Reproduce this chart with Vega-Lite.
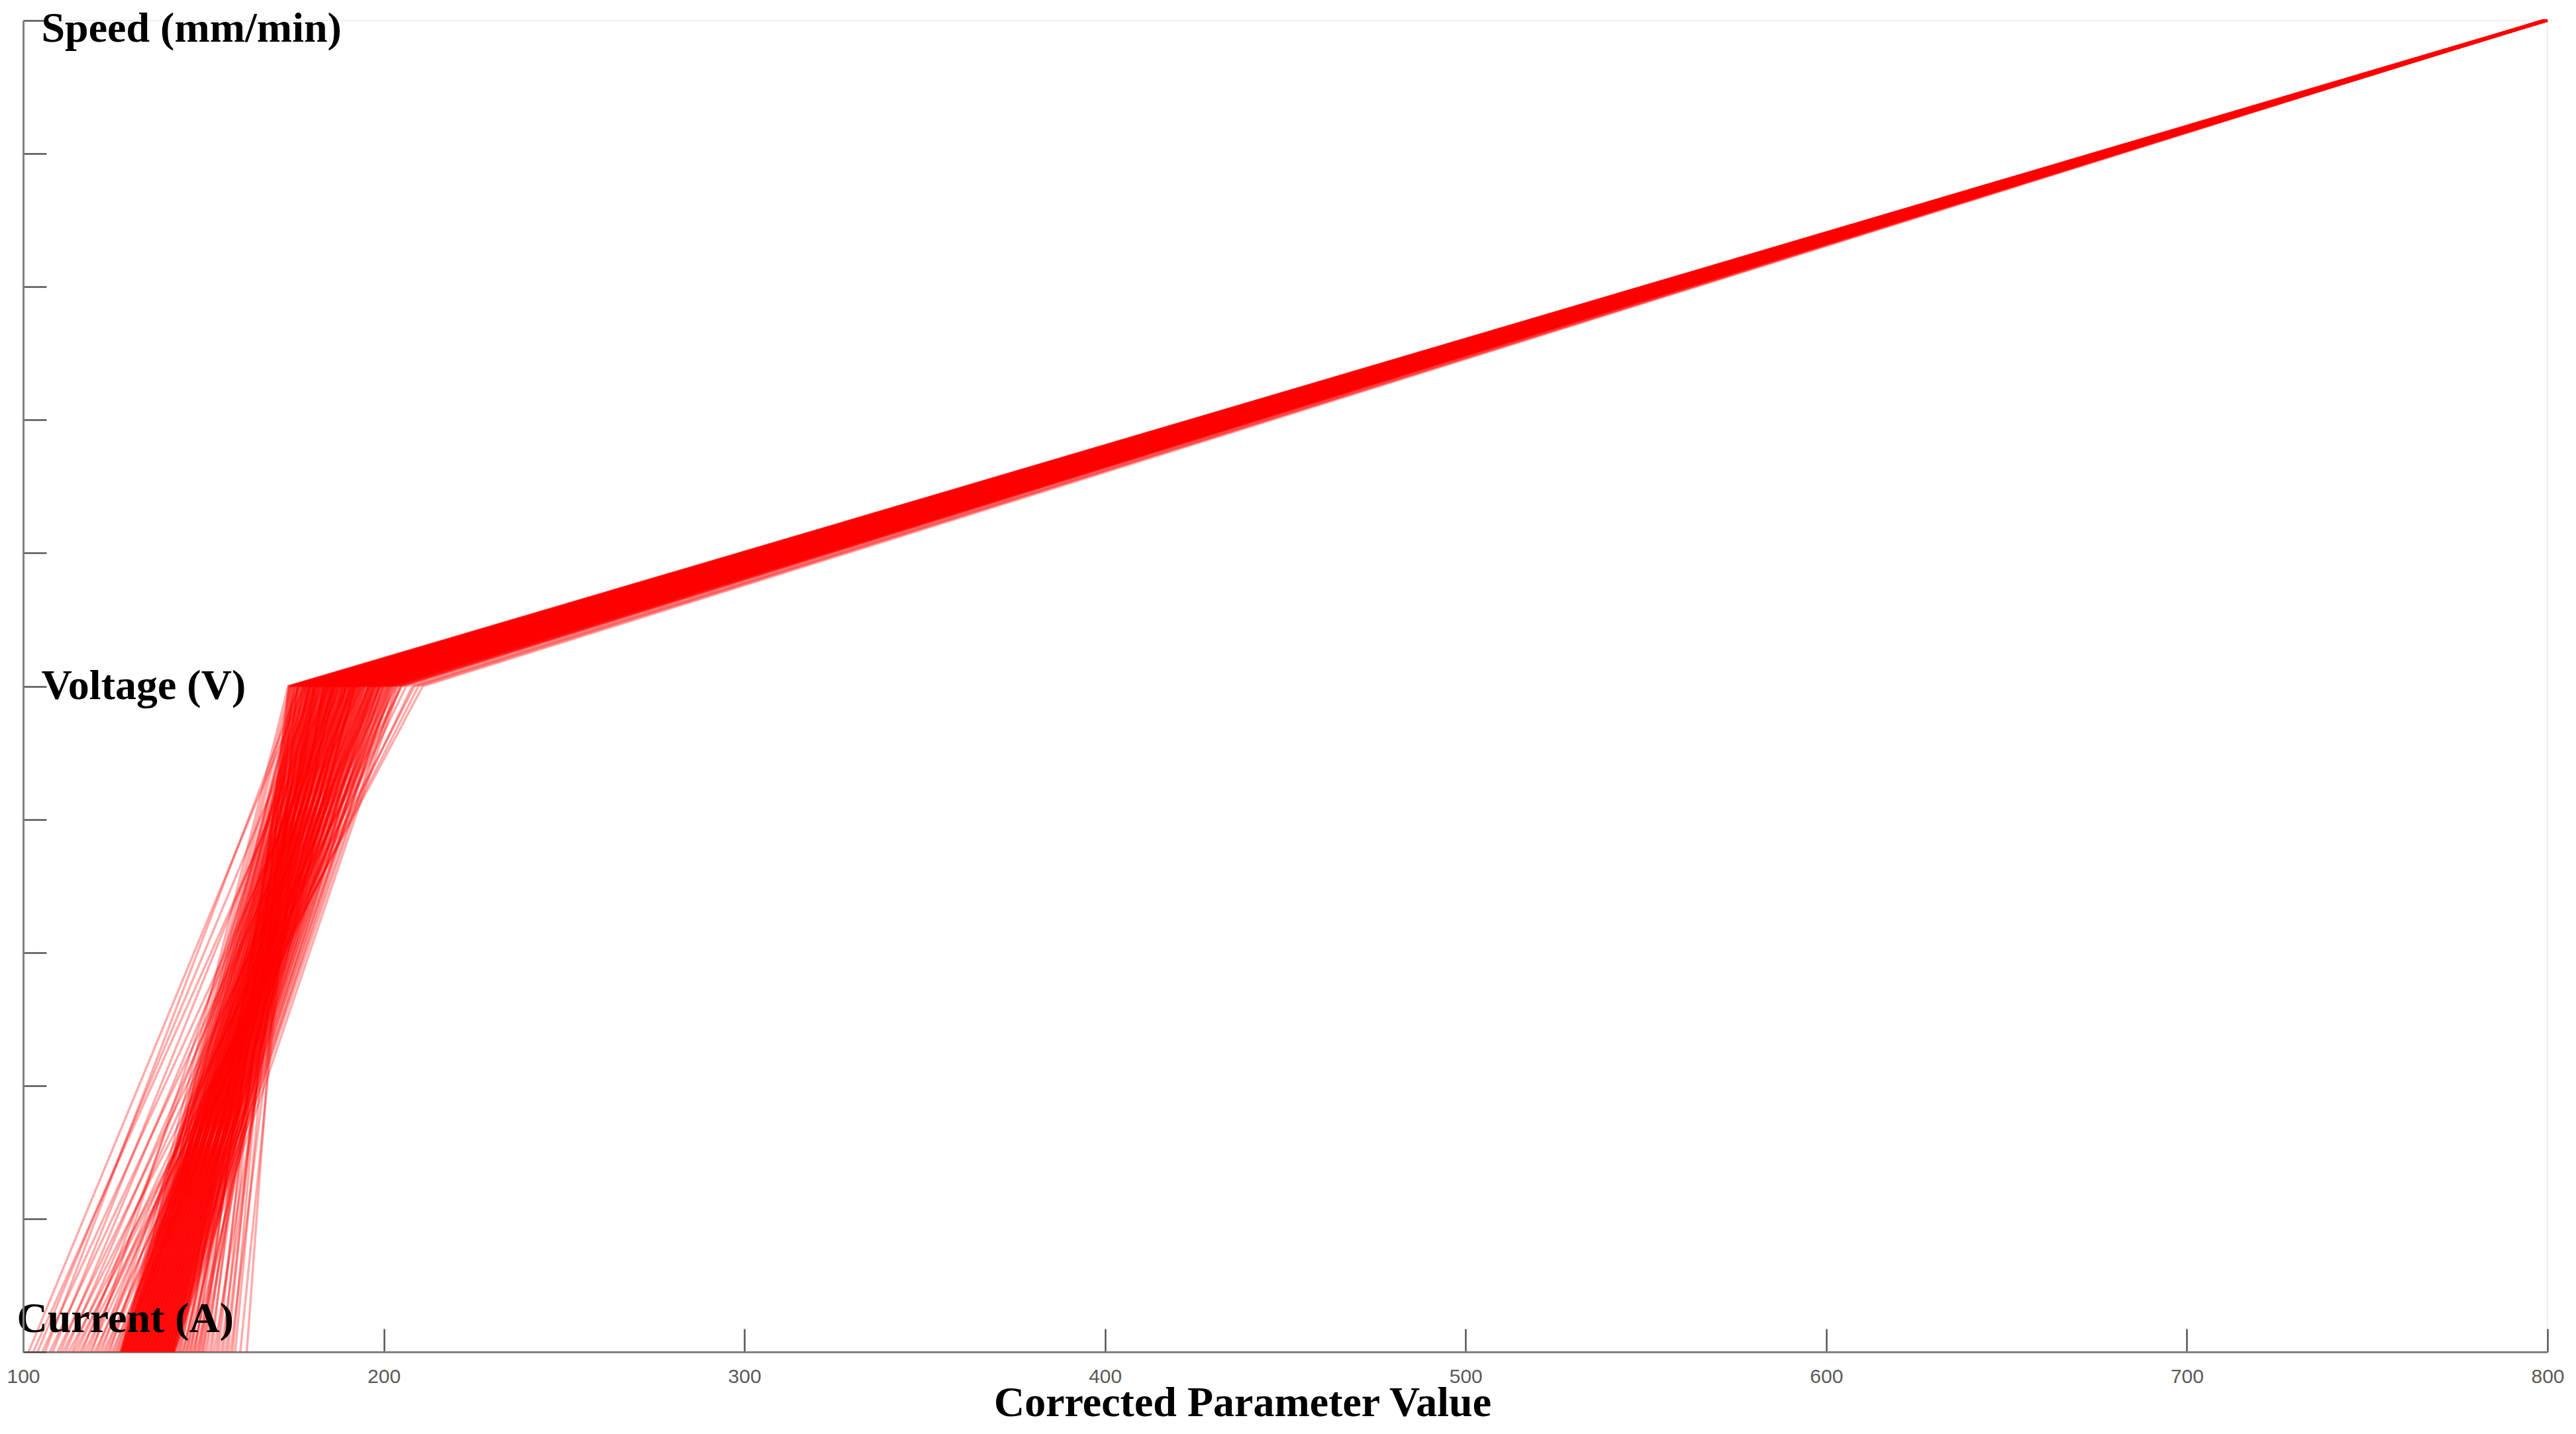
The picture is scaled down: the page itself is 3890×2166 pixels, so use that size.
{
"$schema": "https://vega.github.io/schema/vega-lite/v6.json",
"autosize": {"type": "none"},
"width": 3812,
"height": 2011,
"padding": {"left": 35, "top": 31, "right": 43, "bottom": 124},
"background": "white",
"config": {"view": {"stroke": "#efefef", "strokeWidth": 2}},
"data": {"values": [
{"current":101.5,"voltage":178.0,"speed":799.6},
{"current":102.8,"voltage":185.0,"speed":799.2},
{"current":104.0,"voltage":181.0,"speed":800.0},
{"current":105.3,"voltage":190.0,"speed":798.9},
{"current":106.1,"voltage":176.5,"speed":799.8},
{"current":107.4,"voltage":194.0,"speed":799.4},
{"current":108.2,"voltage":183.0,"speed":799.0},
{"current":109.5,"voltage":199.0,"speed":799.9},
{"current":110.3,"voltage":188.0,"speed":799.5},
{"current":111.0,"voltage":205.0,"speed":798.7},
{"current":111.8,"voltage":192.0,"speed":799.7},
{"current":112.6,"voltage":210.8,"speed":799.3},
{"current":113.5,"voltage":196.0,"speed":799.6},
{"current":114.1,"voltage":208.5,"speed":799.2},
{"current":114.9,"voltage":201.0,"speed":800.0},
{"current":115.7,"voltage":209.6,"speed":798.9},
{"current":116.4,"voltage":186.5,"speed":799.8},
{"current":117.0,"voltage":206.2,"speed":799.4},
{"current":117.8,"voltage":197.5,"speed":799.0},
{"current":118.5,"voltage":203.3,"speed":799.9},
{"current":119.1,"voltage":180.0,"speed":799.5},
{"current":119.8,"voltage":207.9,"speed":798.7},
{"current":120.4,"voltage":193.0,"speed":799.7},
{"current":121.0,"voltage":202.2,"speed":799.3},
{"current":121.7,"voltage":189.5,"speed":799.6},
{"current":122.3,"voltage":204.8,"speed":799.2},
{"current":122.9,"voltage":198.1,"speed":800.0},
{"current":123.5,"voltage":200.1,"speed":798.9},
{"current":124.0,"voltage":184.0,"speed":799.8},
{"current":124.6,"voltage":201.5,"speed":799.4},
{"current":125.1,"voltage":195.8,"speed":799.0},
{"current":125.6,"voltage":197.2,"speed":799.9},
{"current":126.0,"voltage":191.0,"speed":799.5},
{"current":126.4,"voltage":199.0,"speed":798.7},
{"current":126.8,"voltage":203.0,"speed":799.7},
{"current":127.05,"voltage":173.5,"speed":799.6},
{"current":127.15,"voltage":176.2,"speed":799.2},
{"current":127.25,"voltage":178.3,"speed":800.0},
{"current":127.35,"voltage":181.1,"speed":798.9},
{"current":127.45,"voltage":183.4,"speed":799.8},
{"current":127.55,"voltage":186.2,"speed":799.4},
{"current":127.65,"voltage":188.3,"speed":799.0},
{"current":127.75,"voltage":191.2,"speed":799.9},
{"current":127.85,"voltage":193.3,"speed":799.5},
{"current":127.95,"voltage":196.1,"speed":798.7},
{"current":127.3,"voltage":177.4,"speed":799.7},
{"current":127.7,"voltage":184.6,"speed":799.3},
{"current":128.05,"voltage":174.1,"speed":799.6},
{"current":128.15,"voltage":176.4,"speed":799.2},
{"current":128.25,"voltage":179.3,"speed":800.0},
{"current":128.35,"voltage":181.5,"speed":798.9},
{"current":128.45,"voltage":184.3,"speed":799.8},
{"current":128.55,"voltage":186.4,"speed":799.4},
{"current":128.65,"voltage":189.2,"speed":799.0},
{"current":128.75,"voltage":191.4,"speed":799.9},
{"current":128.85,"voltage":194.3,"speed":799.5},
{"current":128.95,"voltage":196.5,"speed":798.7},
{"current":128.3,"voltage":178.2,"speed":799.7},
{"current":128.7,"voltage":185.3,"speed":799.3},
{"current":129.05,"voltage":174.6,"speed":799.6},
{"current":129.15,"voltage":177.4,"speed":799.2},
{"current":129.25,"voltage":179.6,"speed":800.0},
{"current":129.35,"voltage":182.4,"speed":798.9},
{"current":129.45,"voltage":184.6,"speed":799.8},
{"current":129.55,"voltage":187.4,"speed":799.4},
{"current":129.65,"voltage":189.5,"speed":799.0},
{"current":129.75,"voltage":192.3,"speed":799.9},
{"current":129.85,"voltage":194.6,"speed":799.5},
{"current":129.95,"voltage":197.4,"speed":798.7},
{"current":129.3,"voltage":178.6,"speed":799.7},
{"current":129.7,"voltage":185.8,"speed":799.3},
{"current":130.05,"voltage":175.4,"speed":799.6},
{"current":130.15,"voltage":177.7,"speed":799.2},
{"current":130.25,"voltage":180.5,"speed":800.0},
{"current":130.35,"voltage":182.7,"speed":798.9},
{"current":130.45,"voltage":185.5,"speed":799.8},
{"current":130.55,"voltage":187.6,"speed":799.4},
{"current":130.65,"voltage":190.5,"speed":799.0},
{"current":130.75,"voltage":192.7,"speed":799.9},
{"current":130.85,"voltage":195.5,"speed":799.5},
{"current":130.95,"voltage":197.7,"speed":798.7},
{"current":130.3,"voltage":179.4,"speed":799.7},
{"current":130.7,"voltage":186.2,"speed":799.3},
{"current":131.05,"voltage":175.8,"speed":799.6},
{"current":131.15,"voltage":178.6,"speed":799.2},
{"current":131.25,"voltage":180.8,"speed":800.0},
{"current":131.35,"voltage":183.6,"speed":798.9},
{"current":131.45,"voltage":185.8,"speed":799.8},
{"current":131.55,"voltage":188.6,"speed":799.4},
{"current":131.65,"voltage":190.8,"speed":799.0},
{"current":131.75,"voltage":193.6,"speed":799.9},
{"current":131.85,"voltage":195.8,"speed":799.5},
{"current":131.95,"voltage":198.6,"speed":798.7},
{"current":131.3,"voltage":179.8,"speed":799.7},
{"current":131.7,"voltage":187.1,"speed":799.3},
{"current":132.05,"voltage":176.6,"speed":799.6},
{"current":132.15,"voltage":178.9,"speed":799.2},
{"current":132.25,"voltage":181.7,"speed":800.0},
{"current":132.35,"voltage":183.9,"speed":798.9},
{"current":132.45,"voltage":186.7,"speed":799.8},
{"current":132.55,"voltage":188.9,"speed":799.4},
{"current":132.65,"voltage":191.6,"speed":799.0},
{"current":132.75,"voltage":193.9,"speed":799.9},
{"current":132.85,"voltage":196.6,"speed":799.5},
{"current":132.95,"voltage":198.9,"speed":798.7},
{"current":132.3,"voltage":180.6,"speed":799.7},
{"current":132.7,"voltage":187.4,"speed":799.3},
{"current":133.05,"voltage":177.0,"speed":799.6},
{"current":133.15,"voltage":179.7,"speed":799.2},
{"current":133.25,"voltage":182.0,"speed":800.0},
{"current":133.35,"voltage":184.8,"speed":798.9},
{"current":133.45,"voltage":187.0,"speed":799.8},
{"current":133.55,"voltage":189.8,"speed":799.4},
{"current":133.65,"voltage":192.0,"speed":799.0},
{"current":133.75,"voltage":194.8,"speed":799.9},
{"current":133.85,"voltage":197.0,"speed":799.5},
{"current":133.95,"voltage":199.8,"speed":798.7},
{"current":133.3,"voltage":181.0,"speed":799.7},
{"current":133.7,"voltage":188.2,"speed":799.3},
{"current":134.05,"voltage":177.8,"speed":799.6},
{"current":134.15,"voltage":180.1,"speed":799.2},
{"current":134.25,"voltage":182.9,"speed":800.0},
{"current":134.35,"voltage":185.1,"speed":798.9},
{"current":134.45,"voltage":187.9,"speed":799.8},
{"current":134.55,"voltage":190.1,"speed":799.4},
{"current":134.65,"voltage":192.9,"speed":799.0},
{"current":134.75,"voltage":195.1,"speed":799.9},
{"current":134.85,"voltage":197.9,"speed":799.5},
{"current":134.95,"voltage":200.1,"speed":798.7},
{"current":134.3,"voltage":181.8,"speed":799.7},
{"current":134.7,"voltage":188.6,"speed":799.3},
{"current":135.05,"voltage":178.3,"speed":799.6},
{"current":135.15,"voltage":181.1,"speed":799.2},
{"current":135.25,"voltage":183.3,"speed":800.0},
{"current":135.35,"voltage":186.1,"speed":798.9},
{"current":135.45,"voltage":188.3,"speed":799.8},
{"current":135.55,"voltage":191.1,"speed":799.4},
{"current":135.65,"voltage":193.3,"speed":799.0},
{"current":135.75,"voltage":196.1,"speed":799.9},
{"current":135.85,"voltage":198.3,"speed":799.5},
{"current":135.95,"voltage":201.1,"speed":798.7},
{"current":135.3,"voltage":182.3,"speed":799.7},
{"current":135.7,"voltage":189.4,"speed":799.3},
{"current":136.05,"voltage":179.1,"speed":799.6},
{"current":136.15,"voltage":181.4,"speed":799.2},
{"current":136.25,"voltage":184.2,"speed":800.0},
{"current":136.35,"voltage":186.4,"speed":798.9},
{"current":136.45,"voltage":189.2,"speed":799.8},
{"current":136.55,"voltage":191.4,"speed":799.4},
{"current":136.65,"voltage":194.2,"speed":799.0},
{"current":136.75,"voltage":196.4,"speed":799.9},
{"current":136.85,"voltage":199.2,"speed":799.5},
{"current":136.95,"voltage":201.4,"speed":798.7},
{"current":136.3,"voltage":183.1,"speed":799.7},
{"current":136.7,"voltage":189.7,"speed":799.3},
{"current":137.05,"voltage":179.5,"speed":799.6},
{"current":137.15,"voltage":182.3,"speed":799.2},
{"current":137.25,"voltage":184.5,"speed":800.0},
{"current":137.35,"voltage":187.3,"speed":798.9},
{"current":137.45,"voltage":189.5,"speed":799.8},
{"current":137.55,"voltage":192.3,"speed":799.4},
{"current":137.65,"voltage":194.5,"speed":799.0},
{"current":137.75,"voltage":197.3,"speed":799.9},
{"current":137.85,"voltage":199.5,"speed":799.5},
{"current":137.95,"voltage":202.3,"speed":798.7},
{"current":137.3,"voltage":183.5,"speed":799.7},
{"current":137.7,"voltage":190.6,"speed":799.3},
{"current":138.05,"voltage":180.4,"speed":799.6},
{"current":138.15,"voltage":182.6,"speed":799.2},
{"current":138.25,"voltage":185.4,"speed":800.0},
{"current":138.35,"voltage":187.6,"speed":798.9},
{"current":138.45,"voltage":190.4,"speed":799.8},
{"current":138.55,"voltage":192.6,"speed":799.4},
{"current":138.65,"voltage":195.4,"speed":799.0},
{"current":138.75,"voltage":197.6,"speed":799.9},
{"current":138.85,"voltage":200.4,"speed":799.5},
{"current":138.95,"voltage":202.6,"speed":798.7},
{"current":138.3,"voltage":184.3,"speed":799.7},
{"current":138.7,"voltage":190.9,"speed":799.3},
{"current":139.05,"voltage":180.7,"speed":799.6},
{"current":139.15,"voltage":183.5,"speed":799.2},
{"current":139.25,"voltage":185.7,"speed":800.0},
{"current":139.35,"voltage":188.5,"speed":798.9},
{"current":139.45,"voltage":190.7,"speed":799.8},
{"current":139.55,"voltage":193.5,"speed":799.4},
{"current":139.65,"voltage":195.7,"speed":799.0},
{"current":139.75,"voltage":198.5,"speed":799.9},
{"current":139.85,"voltage":200.7,"speed":799.5},
{"current":139.95,"voltage":203.5,"speed":798.7},
{"current":139.3,"voltage":184.7,"speed":799.7},
{"current":139.7,"voltage":191.8,"speed":799.3},
{"current":140.05,"voltage":181.6,"speed":799.6},
{"current":140.15,"voltage":183.8,"speed":799.2},
{"current":140.25,"voltage":186.6,"speed":800.0},
{"current":140.35,"voltage":188.8,"speed":798.9},
{"current":140.45,"voltage":191.6,"speed":799.8},
{"current":140.55,"voltage":193.8,"speed":799.4},
{"current":140.65,"voltage":196.6,"speed":799.0},
{"current":140.75,"voltage":198.8,"speed":799.9},
{"current":140.85,"voltage":201.6,"speed":799.5},
{"current":140.95,"voltage":203.8,"speed":798.7},
{"current":140.3,"voltage":185.5,"speed":799.7},
{"current":140.7,"voltage":192.1,"speed":799.3},
{"current":141.05,"voltage":181.9,"speed":799.6},
{"current":141.15,"voltage":184.7,"speed":799.2},
{"current":141.25,"voltage":186.9,"speed":800.0},
{"current":141.35,"voltage":189.7,"speed":798.9},
{"current":141.45,"voltage":191.9,"speed":799.8},
{"current":141.55,"voltage":194.7,"speed":799.4},
{"current":141.65,"voltage":196.9,"speed":799.0},
{"current":141.75,"voltage":199.7,"speed":799.9},
{"current":141.85,"voltage":201.9,"speed":799.5},
{"current":141.95,"voltage":204.4,"speed":798.7},
{"current":141.3,"voltage":185.9,"speed":799.7},
{"current":141.7,"voltage":193.0,"speed":799.3},
{"current":142.2,"voltage":186.5,"speed":799.6},
{"current":142.6,"voltage":190.3,"speed":799.2},
{"current":143.0,"voltage":181.2,"speed":800.0},
{"current":143.3,"voltage":188.7,"speed":798.9},
{"current":143.7,"voltage":176.4,"speed":799.8},
{"current":144.1,"voltage":192.0,"speed":799.4},
{"current":144.4,"voltage":184.0,"speed":799.0},
{"current":144.8,"voltage":179.5,"speed":799.9},
{"current":145.2,"voltage":189.6,"speed":799.5},
{"current":145.5,"voltage":175.3,"speed":798.7},
{"current":145.9,"voltage":186.2,"speed":799.7},
{"current":146.3,"voltage":182.1,"speed":799.3},
{"current":146.6,"voltage":177.8,"speed":799.6},
{"current":147.0,"voltage":191.2,"speed":799.2},
{"current":147.4,"voltage":180.6,"speed":800.0},
{"current":147.7,"voltage":174.6,"speed":798.9},
{"current":148.1,"voltage":187.4,"speed":799.8},
{"current":148.5,"voltage":178.9,"speed":799.4},
{"current":148.8,"voltage":183.5,"speed":799.0},
{"current":149.2,"voltage":176.1,"speed":799.9},
{"current":149.6,"voltage":185.3,"speed":799.5},
{"current":149.9,"voltage":173.8,"speed":798.7},
{"current":150.4,"voltage":181.0,"speed":799.7},
{"current":151.0,"voltage":175.2,"speed":799.3},
{"current":151.7,"voltage":178.4,"speed":799.6},
{"current":152.3,"voltage":173.6,"speed":799.2},
{"current":152.9,"voltage":183.2,"speed":800.0},
{"current":153.6,"voltage":176.8,"speed":798.9},
{"current":154.2,"voltage":174.3,"speed":799.8},
{"current":154.9,"voltage":179.7,"speed":799.4},
{"current":155.5,"voltage":173.9,"speed":799.0},
{"current":156.2,"voltage":177.3,"speed":799.9},
{"current":156.8,"voltage":175.0,"speed":799.5},
{"current":157.5,"voltage":180.5,"speed":798.7},
{"current":158.1,"voltage":174.6,"speed":799.7},
{"current":158.8,"voltage":176.1,"speed":799.3},
{"current":160.2,"voltage":178.8,"speed":799.6},
{"current":162.0,"voltage":175.6,"speed":799.2}
]},
"transform": [
{"fold": ["current", "voltage", "speed"], "as": ["key", "value"]},
{"lookup": "key", "from": {"data": {"values": [{"key": "current", "level": 0}, {"key": "voltage", "level": 5}, {"key": "speed", "level": 10}]}, "key": "key", "fields": ["level"]}}
],
"mark": {"type": "line", "color": "#ff0000", "opacity": 0.33, "strokeWidth": 3.5},
"encoding": {
"x": {"field": "value", "type": "quantitative",
 "scale": {"domain": [100, 800], "nice": false, "zero": false},
 "axis": {"values": [100, 200, 300, 400, 500, 600, 700, 800], "grid": false,
  "domainColor": "#808080", "domainWidth": 3, "tickColor": "#555555", "tickWidth": 2.5, "tickSize": -35,
  "labelFont": "Liberation Sans", "labelFontSize": 30, "labelColor": "#5a5a5a", "labelPadding": 57, "labelFlush": false,
  "title": "Corrected Parameter Value", "titleFont": "Liberation Serif", "titleFontSize": 64, "titleFontWeight": "bold", "titleColor": "#000000",
  "titleX": 1841, "titleY": 96, "titleBaseline": "alphabetic"}},
"y": {"field": "level", "type": "quantitative",
 "scale": {"domain": [0, 10], "nice": false, "zero": false},
 "axis": {"values": [0, 1, 2, 3, 4, 5, 6, 7, 8, 9, 10], "grid": false, "title": null, "zindex": 1,
  "domainColor": "#808080", "domainWidth": 3, "tickColor": "#555555", "tickWidth": 2.5, "tickSize": -35,
  "labelExpr": "datum.value == 0 ? 'Current (A)' : datum.value == 5 ? 'Voltage (V)' : datum.value == 10 ? 'Speed (mm/min)' : ''",
  "labelFont": "Liberation Serif", "labelFontSize": 64, "labelFontWeight": "bold", "labelColor": "#000000", "labelLimit": 0,
  "labelAlign": "left", "labelBaseline": "middle", "labelOverlap": false, "labelBound": false, "labelFlush": false,
  "labelOffset": {"condition": [{"test": "datum.value == 0", "value": -50}, {"test": "datum.value == 10", "value": 12}], "value": 0},
  "labelPadding": {"condition": {"test": "datum.value == 0", "value": 45}, "value": 8}}},
"detail": [{"field": "current", "type": "nominal"}, {"field": "voltage", "type": "nominal"}, {"field": "speed", "type": "nominal"}],
"order": {"field": "level", "type": "quantitative"}
}
}
